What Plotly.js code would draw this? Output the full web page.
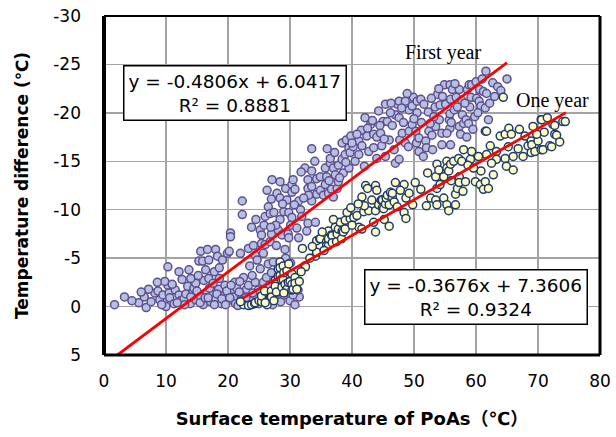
<!DOCTYPE html>
<html>
<head>
<meta charset="utf-8">
<script src="https://cdn.plot.ly/plotly-3.0.1.min.js"></script>
<style>html,body{margin:0;padding:0;background:#fff;}#chart{width:616px;height:437px;}</style>
</head>
<body>
<div id="chart"></div>
<script>
// ---- Data ----
const firstYearX = [1.7,3.3,5.6,6.5,6.8,7.6,8.2,8.7,9.0,9.5,10.3,10.3,10.5,10.6,11.3,11.5,12.1,12.1,12.3,12.9,13.2,13.5,13.7,13.9,14.3,14.5,14.8,14.8,15.3,15.6,15.6,15.9,16.0,16.1,16.4,16.6,16.7,16.9,16.9,17.2,17.5,17.8,18.0,18.0,18.3,18.5,18.6,18.9,19.1,19.3,19.5,19.9,20.0,20.2,20.4,20.4,20.6,20.9,21.1,21.2,21.6,22.0,22.2,22.3,22.3,22.5,22.7,23.0,23.3,23.3,23.5,23.8,24.1,24.4,24.4,24.6,24.7,24.9,25.2,25.2,25.4,25.4,25.7,25.7,25.8,26.0,26.0,26.2,26.5,26.5,26.6,26.8,26.8,27.0,27.0,27.0,27.1,27.3,27.4,27.9,27.8,28.1,28.4,28.4,28.4,28.7,29.0,29.2,29.3,29.3,29.7,29.8,29.8,30.1,30.1,30.3,30.5,30.3,30.3,30.8,31.1,31.4,31.4,31.7,32.4,32.7,32.9,32.9,32.9,33.5,33.5,33.5,33.5,34.1,34.3,34.3,34.9,34.9,35.4,35.7,35.7,35.9,36.2,36.5,36.5,36.7,37.0,37.0,37.3,37.6,37.8,37.8,38.4,38.4,38.6,38.9,39.1,39.5,39.5,39.7,40.5,41.1,41.1,42.1,42.4,42.7,43.5,43.5,44.0,44.3,44.6,45.0,45.4,45.4,45.7,46.5,47.0,47.0,47.3,47.6,47.6,47.6,47.7,48.1,48.6,48.6,49.1,49.2,49.2,49.7,49.7,49.9,50.3,50.4,50.5,50.5,50.8,50.8,51.1,51.6,51.9,52.0,52.3,52.4,52.9,53.4,53.5,53.8,54.1,54.2,54.5,54.5,54.6,54.9,55.1,55.7,55.8,55.8,55.8,55.9,55.9,56.2,56.8,57.3,57.3,57.7,57.8,58.0,58.4,58.6,58.8,58.9,59.0,59.2,59.3,59.8,60.1,60.5,60.6,60.8,61.2,61.5,61.6,61.7,62.7,65.0,
  13.0,14.0,15.0,15.5,16.3,17.0,17.8,18.2,19.0,19.8,20.3,21.4,21.8,22.4,23.5,24.0,25.0,25.5,26.0,27.2,27.5,28.0,28.5,29.0,30.0,30.8,31.5,9.8,11.0,12.6,14.0,7.2,8.6,10.0,15.2,
  39.8,40.2,41.5,43.0,44.8,46.0,46.2,48.0,52.6,53.2,56.5,57.5,60.0,62.2,63.5,44.0,42.0,36.0,34.0,31.8,29.5,26.3,23.8,24.5,
  36.3,37.2,38.0,39.0,40.0,40.8,41.6,42.5,43.3,44.5,45.2,46.3,46.8,48.3,48.9,50.0,51.2,51.5,52.8,53.0,54.0,55.3,56.0,56.6,57.0,58.2,58.5,59.5,60.3,61.0,62.0,63.0,64.0,33.0,31.9,32.2,30.7,28.8,27.7,26.9,
  16.8,17.6,18.6,19.6,20.5,21.9,22.9,23.9,24.8,25.9,26.7,27.7,28.3,29.5,30.5,31.3,11.8,9.3,6.0,4.5];
const firstYearY = [-0.2,-1.0,-0.4,-1.0,0.1,-0.5,-1.4,-1.6,-0.7,-1.2,-2.2,-4.1,-1.4,-0.9,-0.3,-1.7,-3.6,-1.2,-0.6,-0.8,-1.3,-2.1,-3.8,-0.3,-1.4,-1.9,-0.7,-2.4,-4.7,-5.7,-1.0,-4.7,-0.2,-2.7,-3.8,-1.5,-5.9,-4.8,-2.9,-0.5,-1.2,-3.6,-5.9,-0.8,-5.2,-1.8,-4.0,-0.3,-4.8,-1.1,-2.2,-5.5,-0.6,-5.7,-7.6,-7.2,-1.5,-1.0,-2.5,-0.3,-0.1,-5.5,-1.1,-10.9,-9.5,-3.0,-0.4,-1.8,-6.0,-2.2,-4.2,-0.6,-6.3,-5.3,-2.5,-1.0,-4.8,-1.7,-3.9,-7.9,-7.4,-6.5,-5.5,-2.5,-8.4,-9.3,-6.4,-3.0,-4.4,-10.3,-0.5,-6.7,-9.6,-7.5,-3.5,-11.1,-13.1,-4.6,-9.7,-11.7,-6.3,-7.9,-9.0,-11.2,-12.9,-7.4,-9.8,-5.9,-12.2,-5.0,-7.5,-9.7,-7.1,-8.4,-4.5,-12.6,-13.1,-11.8,-9.2,-12.1,-8.1,-7.1,-10.9,-10.0,-14.3,-7.8,-8.6,-12.2,-13.1,-12.4,-14.0,-10.9,-16.3,-8.7,-11.6,-13.2,-12.0,-13.4,-11.5,-12.6,-14.3,-13.4,-11.7,-14.8,-15.3,-12.1,-11.3,-14.3,-13.6,-12.2,-12.9,-14.6,-15.2,-16.9,-13.8,-15.7,-17.2,-16.4,-14.3,-15.9,-15.0,-15.7,-17.1,-19.5,-17.6,-16.0,-16.4,-17.8,-17.5,-20.2,-17.9,-19.1,-20.9,-15.5,-19.1,-18.7,-19.8,-14.8,-20.9,-21.2,-19.5,-15.2,-17.2,-17.9,-21.2,-16.9,-16.5,-20.3,-18.1,-20.7,-18.8,-21.6,-18.1,-16.9,-21.2,-20.0,-17.4,-16.0,-21.4,-20.9,-17.1,-16.4,-20.1,-18.1,-17.7,-20.6,-18.6,-21.9,-19.3,-20.8,-17.9,-16.7,-21.7,-22.9,-20.9,-19.3,-18.4,-22.9,-19.9,-21.4,-16.7,-22.4,-21.6,-22.4,-18.6,-21.3,-19.8,-18.9,-19.3,-22.4,-18.9,-22.9,-20.6,-21.6,-22.9,-19.6,-21.5,-21.2,-22.4,-20.7,-22.2,-20.5,-24.3,-22.0,-23.1,-23.5,
  -0.2,-1.0,-1.6,-0.4,-0.9,-1.9,-0.2,-1.3,-0.8,-1.6,-0.9,-1.9,-1.5,-0.7,-0.2,-1.4,-0.3,-1.0,-1.8,-0.2,-0.8,-1.5,-0.5,-1.2,-0.6,-0.2,-1.0,-2.6,-2.3,-2.8,-2.9,-1.8,-2.5,0.0,-3.2,
  -17.6,-16.5,-18.2,-18.8,-16.6,-17.2,-20.0,-20.5,-18.9,-19.6,-20.3,-17.8,-23.2,-21.0,-22.7,-15.3,-14.5,-16.3,-15.0,-13.9,-11.0,-12.0,-8.2,-9.0,
  -13.0,-15.9,-13.3,-14.9,-16.9,-17.8,-16.6,-18.4,-19.2,-18.7,-17.3,-21.0,-16.2,-19.0,-22.0,-19.4,-19.0,-15.5,-21.5,-16.2,-22.5,-17.9,-19.0,-23.0,-20.6,-21.0,-17.5,-18.3,-20.0,-23.5,-19.3,-21.7,-22.3,-11.5,-9.3,-11.2,-10.5,-10.6,-8.4,-8.2,
  -0.9,-2.4,-2.9,-0.2,-2.2,-2.6,-0.9,-3.2,-0.5,-1.3,-2.2,-1.9,-3.3,-2.9,-1.2,-1.7,-0.4,-0.2,-1.5,-0.6];

const oneYearX = [22.5,23.3,23.8,24.3,24.4,25.0,25.4,25.4,25.9,26.3,26.8,27.0,27.0,27.6,27.6,27.8,28.1,28.1,28.4,28.4,28.4,28.6,28.7,28.9,28.9,29.0,29.2,29.5,29.5,29.7,30.0,30.3,30.3,30.3,30.5,30.8,30.8,31.1,32.4,
  34.1,34.3,34.3,34.8,34.9,35.9,35.9,36.2,36.2,36.2,36.7,36.8,36.8,37.3,37.5,37.6,37.8,38.1,38.3,38.4,38.6,38.9,38.9,39.7,40.3,40.8,41.1,41.6,41.6,41.9,42.2,42.5,42.7,43.8,43.8,43.8,44.3,44.7,44.9,44.9,45.1,45.2,45.4,45.5,45.7,46.0,46.0,46.2,46.5,46.5,46.8,47.3,48.4,48.4,48.7,48.7,49.2,
  51.1,52.7,53.5,53.5,53.7,53.7,53.7,54.0,54.8,54.8,55.3,55.3,55.3,55.6,55.6,55.9,56.4,56.7,56.7,57.0,57.2,57.3,57.3,57.7,57.9,58.3,59.1,59.3,59.9,60.4,60.7,61.2,61.5,61.5,61.7,61.7,62.0,62.3,63.3,63.3,63.9,64.4,64.7,64.7,64.9,65.3,65.7,66.0,66.0,67.6,67.9,68.4,68.9,68.9,69.0,69.2,69.5,70.0,70.5,70.5,70.6,70.8,71.9,72.2,72.4,72.7,72.7,73.0,74.0,74.4,
  22.0,26.0,27.4,29.0,31.5,32.0,32.5,33.2,35.2,39.2,40.0,42.0,43.2,47.8,50.2,52.2,58.7,60.8,62.8,66.8,71.0,
  29.8,31.8,33.6,35.5,37.0,39.8,41.0,43.5,44.0,47.0,49.8,52.0,54.2,56.0,58.0,59.6,62.5,65.2,67.0,69.8,71.5,73.5];
const oneYearY = [-0.2,-0.1,-0.2,-0.3,-0.4,-0.6,-0.5,-1.1,-1.6,-0.2,-0.9,-1.6,-1.0,-2.7,-2.1,-1.5,-3.9,-3.1,-4.6,-3.2,-4.0,-2.8,-2.0,-4.2,-2.8,-3.5,-2.3,-3.7,-1.8,-2.5,-2.6,-2.3,-3.4,-1.7,-1.8,-3.0,-2.4,-1.8,-4.2,
  -5.2,-5.6,-6.8,-7.0,-7.0,-6.7,-6.3,-6.3,-7.8,-7.0,-7.4,-7.3,-6.6,-8.2,-6.7,-7.5,-8.0,-8.7,-7.0,-7.8,-7.7,-8.9,-8.0,-9.1,-9.2,-9.4,-8.2,-8.0,-11.3,-9.8,-12.5,-12.2,-9.9,-12.5,-9.9,-7.7,-10.5,-11.0,-11.0,-10.2,-10.1,-9.0,-10.6,-11.2,-11.5,-10.5,-8.3,-11.8,-11.3,-11.7,-10.8,-10.3,-12.6,-9.7,-11.2,-9.1,-11.7,
  -12.1,-11.2,-11.0,-13.4,-14.7,-12.2,-10.5,-14.1,-13.4,-11.2,-15.0,-14.3,-10.5,-14.0,-9.9,-14.7,-15.0,-11.6,-10.5,-12.2,-15.3,-13.4,-12.8,-15.0,-11.9,-12.9,-15.2,-16.0,-12.9,-15.5,-12.6,-12.1,-18.1,-12.9,-15.7,-18.1,-12.2,-16.6,-16.0,-15.2,-17.6,-21.6,-17.8,-15.3,-14.5,-18.4,-17.8,-15.5,-14.1,-15.5,-17.6,-16.6,-17.1,-15.9,-16.7,-18.6,-16.0,-17.1,-19.3,-16.2,-19.3,-16.2,-16.6,-16.5,-18.8,-17.8,-18.7,-17.7,-19.1,-19.1,
  -0.5,-0.4,-0.6,-1.4,-2.6,-6.0,-4.1,-5.0,-7.7,-9.7,-8.4,-10.4,-11.0,-12.0,-12.8,-13.8,-14.6,-14.0,-13.6,-16.3,-18.0,
  -4.4,-3.6,-6.2,-5.8,-9.0,-10.2,-10.6,-8.7,-12.0,-12.8,-10.5,-10.4,-12.6,-13.0,-16.2,-14.3,-14.8,-16.5,-18.3,-17.8,-19.5,-17.0];

// Linear trend lines (slope, intercept) and their x extents
const trendNames = ['First year', 'One year'];
const trendSlope = [-0.4806, -0.3676];
const trendIntercept = [6.0417, 7.3606];
const trendXStart = [2.17, 22.4];
const trendXEnd = [65.0, 74.5];
const trendLabels = ['y = -0.4806x + 6.0417<br>R² = 0.8881', 'y = -0.3676x + 7.3606<br>R² = 0.9324'];

const xTickVals = [0, 10, 20, 30, 40, 50, 60, 70, 80];
const yTickVals = [5, 0, -5, -10, -15, -20, -25, -30];

// ---- Traces ----
const traces = [
  {x: firstYearX, y: firstYearY, type: 'scatter', mode: 'markers', name: 'First year',
   marker: {size: 8, color: '#b6bfe4', line: {color: '#5f4f8c', width: 1.5}}},
  {x: oneYearX, y: oneYearY, type: 'scatter', mode: 'markers', name: 'One year',
   marker: {size: 8, color: '#ffffc6', line: {color: '#1f3a6e', width: 1.5}}}
];
for (let i = 0; i < trendSlope.length; i++) {
  const xs = [trendXStart[i], trendXEnd[i]];
  traces.push({x: xs, y: xs.map(v => trendSlope[i] * v + trendIntercept[i]),
    type: 'scatter', mode: 'lines', name: trendNames[i] + ' trend',
    line: {color: '#ff0000', width: 2.8}});
}

const tickFont = {family: 'DejaVu Sans', size: 17, color: '#000'};
const layout = {
  width: 616, height: 437,
  margin: {l: 104, r: 16, t: 16, b: 82},
  paper_bgcolor: '#fff', plot_bgcolor: '#fff',
  showlegend: false,
  xaxis: {range: [0, 80], tickvals: xTickVals, ticktext: xTickVals.map(String),
    showgrid: true, gridcolor: '#a3a3a3', gridwidth: 1.5, zeroline: false,
    showline: false, ticks: '', ticklabelstandoff: 14, tickfont: tickFont,
    title: {text: 'Surface temperature of PoAs（℃）', font: {family: 'DejaVu Sans, Noto Sans CJK JP', size: 18, weight: 'bold', color: '#000'}, standoff: 22}},
  yaxis: {range: [5, -30], tickvals: yTickVals, ticktext: yTickVals.map(String),
    showgrid: true, gridcolor: '#a3a3a3', gridwidth: 1.5, zeroline: false,
    showline: false, ticks: '', ticklabelstandoff: 22, tickfont: tickFont,
    title: {text: 'Temperature difference (℃)', font: {family: 'DejaVu Sans', size: 17, weight: 'bold', color: '#000'}, standoff: 20}},
  shapes: [
    {type: 'line', xref: 'paper', yref: 'paper', x0: 0, x1: 0, y0: 0, y1: 1, line: {color: '#000', width: 4}},
    {type: 'line', xref: 'paper', yref: 'paper', x0: 0, x1: 1, y0: 0, y1: 0, line: {color: '#000', width: 3}},
    {type: 'line', xref: 'paper', yref: 'paper', x0: 1, x1: 1, y0: 0, y1: 1, line: {color: '#000', width: 3}},
    {type: 'line', xref: 'paper', yref: 'paper', x0: 0, x1: 1, y0: 1, y1: 1, line: {color: '#000', width: 2}}
  ],
  annotations: [
    {x: 21.2, y: -22.05, xref: 'x', yref: 'y', text: trendLabels[0], showarrow: false,
     font: {family: 'DejaVu Sans', size: 18.5, color: '#000'}, bgcolor: '#fff',
     bordercolor: '#000', borderwidth: 1.5, borderpad: 4},
    {x: 60, y: -0.94, xref: 'x', yref: 'y', text: trendLabels[1], showarrow: false,
     font: {family: 'DejaVu Sans', size: 18.5, color: '#000'}, bgcolor: '#fff',
     bordercolor: '#000', borderwidth: 1.5, borderpad: 4},
    {x: 54.7, y: -26.2, xref: 'x', yref: 'y', text: 'First year', showarrow: false,
     font: {family: 'Liberation Serif', size: 20, color: '#000'}},
    {x: 72.3, y: -21.25, xref: 'x', yref: 'y', text: 'One year', showarrow: false,
     font: {family: 'Liberation Serif', size: 20, color: '#000'}}
  ]
};
Plotly.newPlot('chart', traces, layout, {displayModeBar: false, staticPlot: true});
</script>
</body>
</html>
